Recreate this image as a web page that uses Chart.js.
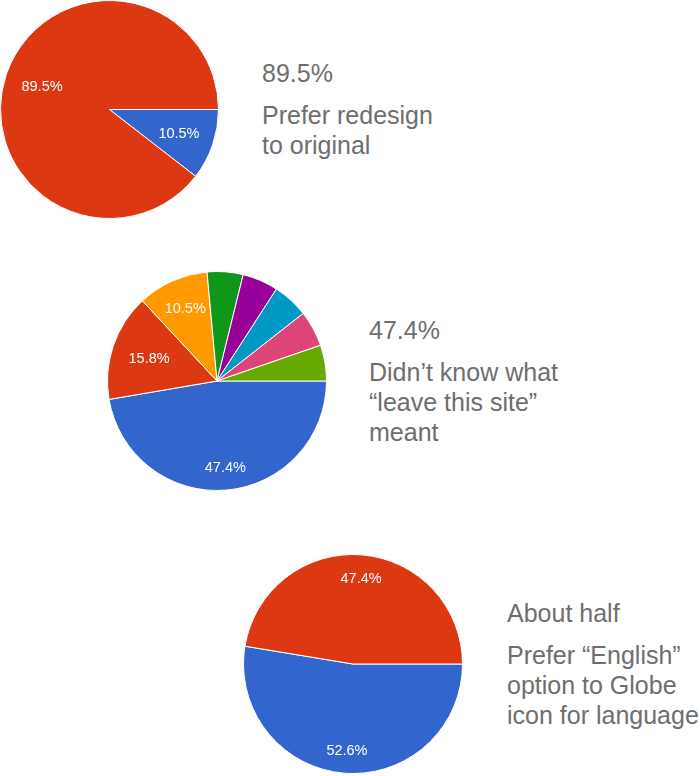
<!DOCTYPE html>
<html>
<head>
<meta charset="utf-8">
<script src="https://cdn.jsdelivr.net/npm/chart.js@4/dist/chart.umd.min.js"></script>
<style>
  html, body { margin: 0; padding: 0; background: #fff; }
  body { width: 700px; height: 776px; position: relative; overflow: hidden; }
  .pie { position: absolute; }
  .txt { position: absolute; font-family: "Liberation Sans", Arial, Helvetica, sans-serif; font-size: 25px; line-height: 30px; color: #6e6e6e; white-space: nowrap; }
</style>
</head>
<body>
<canvas id="pie1" class="pie" width="219" height="219" style="left:0px;top:0px"></canvas>
<canvas id="pie2" class="pie" width="220" height="220" style="left:107px;top:271px"></canvas>
<canvas id="pie3" class="pie" width="220" height="220" style="left:243px;top:554px"></canvas>

<div class="txt" id="h1" style="left:262px;top:58px"></div>
<div class="txt" id="b1" style="left:262px;top:100px"></div>
<div class="txt" id="h2" style="left:369px;top:315px"></div>
<div class="txt" id="b2" style="left:369px;top:357px"></div>
<div class="txt" id="h3" style="left:507px;top:598px"></div>
<div class="txt" id="b3" style="left:507px;top:640px"></div>

<script>
// ---- Data ----
const pie1Labels = ["Prefer original", "Prefer redesign"];
const pie1Values = [10.5, 89.5];
const pie1Colors = ["#3366cc", "#dc3912"];

const pie2Labels = ["Didn't know", "Other 1", "Other 2", "Other 3", "Other 4", "Other 5", "Other 6", "Other 7"];
const pie2Values = [47.4, 15.8, 10.5, 5.3, 5.3, 5.3, 5.3, 5.3];
const pie2Colors = ["#3366cc", "#dc3912", "#ff9900", "#109618", "#990099", "#0099c6", "#dd4477", "#66aa00"];

const pie3Labels = ["Prefer Globe icon", "Prefer English option"];
const pie3Values = [52.6, 47.4];
const pie3Colors = ["#3366cc", "#dc3912"];

const heading1 = "89.5%";
const body1 = ["Prefer redesign", "to original"];
const heading2 = "47.4%";
const body2 = ["Didn\u2019t know what", "\u201Cleave this site\u201D", "meant"];
const heading3 = "About half";
const body3 = ["Prefer \u201CEnglish\u201D", "option to Globe", "icon for language"];

// ---- Text blocks ----
function setText(id, lines) {
  const el = document.getElementById(id);
  [].concat(lines).forEach((l, i) => {
    if (i) el.appendChild(document.createElement('br'));
    el.appendChild(document.createTextNode(l));
  });
}
setText('h1', heading1); setText('b1', body1);
setText('h2', heading2); setText('b2', body2);
setText('h3', heading3); setText('b3', body3);

// ---- Slice percentage labels ----
const pctLabels = {
  id: 'pctLabels',
  afterDatasetsDraw(chart) {
    const ctx = chart.ctx;
    const meta = chart.getDatasetMeta(0);
    const vals = chart.data.datasets[0].data;
    ctx.save();
    ctx.font = '14.5px "Liberation Sans", Arial, sans-serif';
    ctx.fillStyle = '#ffffff';
    ctx.textAlign = 'center';
    ctx.textBaseline = 'alphabetic';
    meta.data.forEach((arc, i) => {
      const v = vals[i];
      if (v < 10) return;
      const p = arc.getProps(['x', 'y', 'startAngle', 'endAngle', 'outerRadius'], true);
      const mid = (p.startAngle + p.endAngle) / 2;
      const txt = v.toFixed(1) + '%';
      const hw = ctx.measureText(txt).width / 2, hh = 6;
      const c = Math.cos(mid), s = Math.sin(mid);
      const d = 0.86 * p.outerRadius - (hw * Math.abs(c) + hh * Math.abs(s));
      ctx.fillText(txt, p.x + c * d + 1, p.y + s * d + 5);
    });
    ctx.restore();
  }
};

function makePie(id, labels, values, colors) {
  return new Chart(document.getElementById(id), {
    type: 'pie',
    data: {
      labels: labels,
      datasets: [{
        data: values,
        backgroundColor: colors,
        borderColor: '#ffffff',
        borderWidth: 1,
        hoverOffset: 0,
        offset: 0
      }]
    },
    options: {
      responsive: false,
      animation: false,
      rotation: 90,
      events: [],
      layout: { padding: 0 },
      plugins: { legend: { display: false }, tooltip: { enabled: false } }
    },
    plugins: [pctLabels]
  });
}

makePie('pie1', pie1Labels, pie1Values, pie1Colors);
makePie('pie2', pie2Labels, pie2Values, pie2Colors);
makePie('pie3', pie3Labels, pie3Values, pie3Colors);
</script>
</body>
</html>
